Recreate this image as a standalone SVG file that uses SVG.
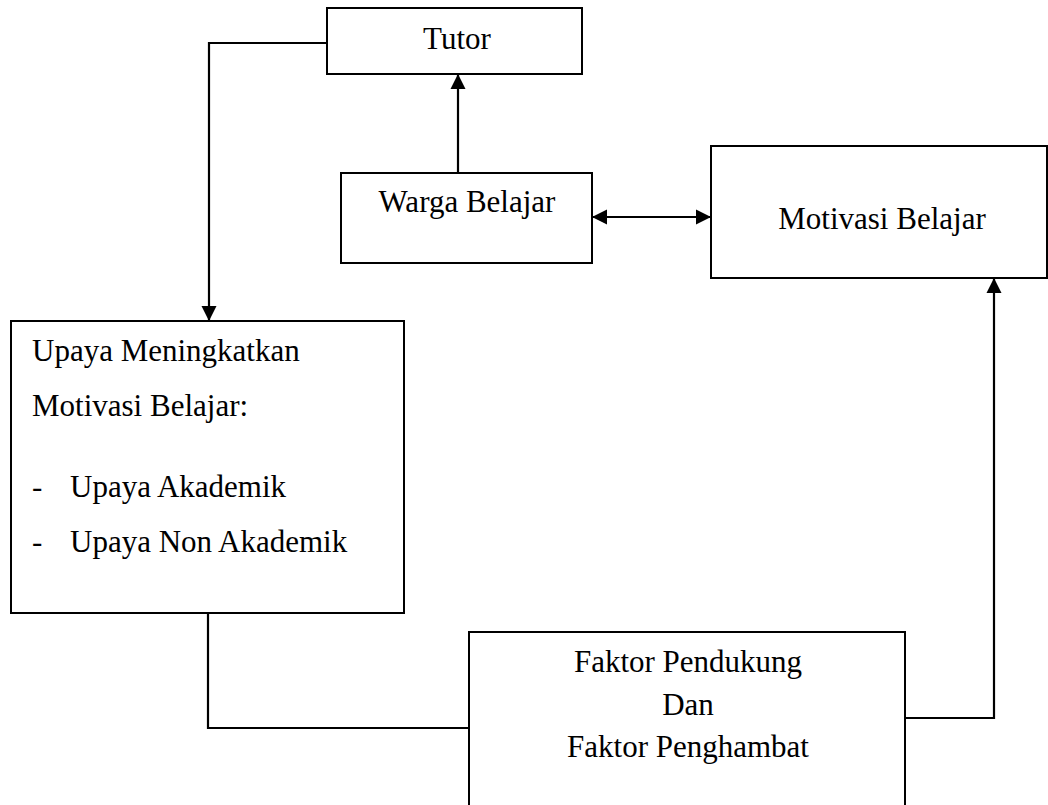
<svg xmlns="http://www.w3.org/2000/svg" width="1048" height="805" viewBox="0 0 1048 805">
<style>
.box{fill:#fff;stroke:#000;stroke-width:2}
.t{font-family:"Liberation Serif","Times New Roman",serif;font-size:31px;fill:#000}
.m{text-anchor:middle}
.c{fill:none;stroke:#000;stroke-width:2.2}
</style>
<defs>
<marker id="ah" viewBox="0 0 10 10" refX="10" refY="5" markerWidth="7" markerHeight="7.4" orient="auto-start-reverse" markerUnits="strokeWidth">
<path d="M0,0 L10,5 L0,10 Z" fill="#000"/>
</marker>
</defs>
<rect width="1048" height="805" fill="#fff"/>
<g id="connectors">
<path class="c" d="M327,43 H209 V321" marker-end="url(#ah)"/>
<path class="c" d="M458,173 V74" marker-end="url(#ah)"/>
<path class="c" d="M592,217 H711" marker-start="url(#ah)" marker-end="url(#ah)"/>
<path class="c" d="M208,613 V728 H469"/>
<path class="c" d="M905,718 H994 V278" marker-end="url(#ah)"/>
</g>
<g id="tutor">
<rect class="box" x="327" y="8" width="255" height="66"/>
<text class="t m" x="457" y="49">Tutor</text>
</g>
<g id="warga">
<rect class="box" x="341" y="173" width="251" height="90"/>
<text class="t m" x="467" y="212">Warga Belajar</text>
</g>
<g id="motivasi">
<rect class="box" x="711" y="146" width="336" height="132"/>
<text class="t m" x="882" y="229">Motivasi Belajar</text>
</g>
<g id="upaya">
<rect class="box" x="11" y="321" width="393" height="292"/>
<text class="t" x="32" y="361">Upaya Meningkatkan</text>
<text class="t" x="32" y="416">Motivasi Belajar:</text>
<text class="t" x="32" y="497">-</text>
<text class="t" x="70" y="497">Upaya Akademik</text>
<text class="t" x="32" y="552">-</text>
<text class="t" x="70" y="552">Upaya Non Akademik</text>
</g>
<g id="faktor">
<rect class="box" x="469" y="632" width="436" height="190"/>
<text class="t m" x="688" y="672">Faktor Pendukung</text>
<text class="t m" x="688" y="715">Dan</text>
<text class="t m" x="688" y="757">Faktor Penghambat</text>
</g>
</svg>
